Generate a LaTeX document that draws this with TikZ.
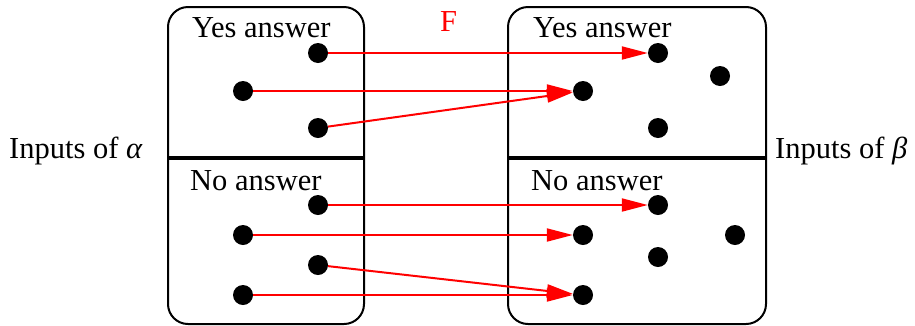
\documentclass[tikz,border=0pt]{standalone}
\usepackage{fontspec}
\setmainfont{Liberation Serif}
\usetikzlibrary{arrows.meta}
\begin{document}
\begin{tikzpicture}[x=1pt,y=-1pt,
  dot/.style={circle,fill=black,inner sep=0pt,minimum size=20pt},
  box/.style={draw=black,line width=2pt,rounded corners=20pt},
  divider/.style={draw=black,line width=4pt},
  map/.style={draw=red,line width=2pt,-{Triangle[length=26pt,width=13pt]}},
  lbl/.style={font=\fontsize{30.5}{30.5}\selectfont,inner sep=0pt,anchor=base west}]
\useasboundingbox (0,0) rectangle (915,325);
% boxes
\draw[box] (168,7) rectangle (364,324);
\draw[box] (508,7) rectangle (766,324);
\coordinate (dl1) at (167,158); \coordinate (dl2) at (365,158);
\coordinate (dr1) at (507,158); \coordinate (dr2) at (767,158);
\draw[divider] (dl1) -- (dl2);
\draw[divider] (dr1) -- (dr2);
% labels
\node[lbl] (ly) at (192,37) {Yes answer};
\node[lbl] (ry) at (533,37) {Yes answer};
\node[lbl] (ln) at (190,190) {No answer};
\node[lbl] (rn) at (531,190) {No answer};
\node[lbl] (ia) at (9,158) {Inputs of {\itshape α}};
\node[lbl] (ib) at (775,158) {Inputs of {\itshape β}};
\node[lbl,text=red] (F) at (440,31) {F};
% dots left
\node[dot] (a1) at (318,53) {};
\node[dot] (a2) at (243,91) {};
\node[dot] (a3) at (318,128) {};
\node[dot] (a4) at (318,205) {};
\node[dot] (a5) at (243,235) {};
\node[dot] (a6) at (318,265) {};
\node[dot] (a7) at (243,295) {};
% dots right
\node[dot] (b1) at (658,53) {};
\node[dot] (b2) at (583,91) {};
\node[dot] (b3) at (658,128) {};
\node[dot] (b4) at (720,76) {};
\node[dot] (b5) at (658,205) {};
\node[dot] (b6) at (583,235) {};
\node[dot] (b7) at (658,257) {};
\node[dot] (b8) at (735,235) {};
\node[dot] (b9) at (583,295) {};
% arrows
\draw[map] (a1) -- (b1);
\draw[map] (a2) -- (b2);
\draw[map] (a3) -- (b2);
\draw[map] (a4) -- (b5);
\draw[map] (a5) -- (b6);
\draw[map] (a6) -- (b9);
\draw[map] (a7) -- (b9);
\end{tikzpicture}
\end{document}
